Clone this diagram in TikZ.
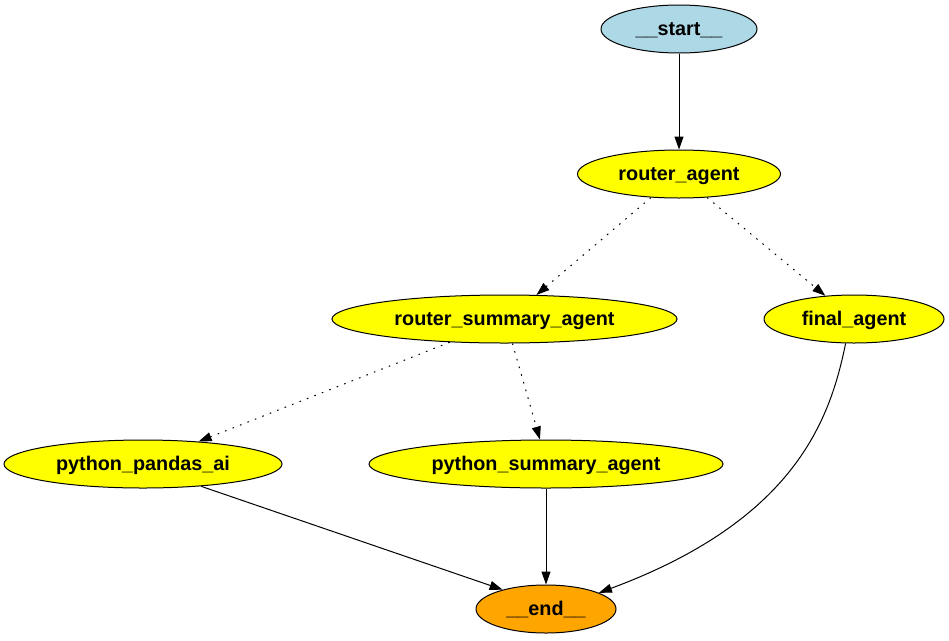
\documentclass[tikz,border=0pt]{standalone}
\usepackage{fontspec}
\setmainfont{Liberation Sans}
\usetikzlibrary{shapes.geometric,arrows.meta}
\definecolor{startblue}{RGB}{173,216,230}
\definecolor{agentyellow}{RGB}{255,255,0}
\definecolor{endorange}{RGB}{255,165,0}
\begin{document}
\begin{tikzpicture}[x=1pt,y=-1pt,
  agent/.style={ellipse,draw=black,line width=1pt,inner sep=0pt,minimum height=48pt,
    text height=14.2pt,text depth=1.2pt,
    font=\fontsize{19.8pt}{22pt}\selectfont\bfseries},
  edge/.style={line width=1pt,-{Triangle[length=13pt,width=9pt]}},
  dottededge/.style={edge,dash pattern=on 1.6pt off 6.4pt}]
\useasboundingbox (0,0) rectangle (949,640);
\fill[white] (0,0) rectangle (949,640);
\node[agent,fill=startblue,minimum width=156pt] (start) at (679,29) {\_\_start\_\_};
\node[agent,fill=agentyellow,minimum width=203pt] (router) at (679,174) {router\_agent};
\node[agent,fill=agentyellow,minimum width=345pt] (rsum) at (504.5,319) {router\_summary\_agent};
\node[agent,fill=agentyellow,minimum width=180pt] (final) at (854,319) {final\_agent};
\node[agent,fill=agentyellow,minimum width=278pt] (ppa) at (143,464) {python\_pandas\_ai};
\node[agent,fill=agentyellow,minimum width=354pt] (psa) at (546,464) {python\_summary\_agent};
\node[agent,fill=endorange,minimum width=140pt] (end) at (546,609) {\_\_end\_\_};
\draw[edge] (start) -- (router);
\draw[dottededge] (router.220.6) -- (rsum.37.7);
\draw[dottededge] (router.-40.6) -- (final.141.8);
\draw[dottededge] (rsum.203.4) -- (ppa.22.7);
\draw[dottededge] (rsum.-72.6) -- (psa.104);
\draw[edge] (ppa.-21.5) -- (end.156);
\draw[edge] (psa) -- (end);
\draw[edge] (final.251.6) .. controls (830,420) and (795,520) .. (end.17.4);
\end{tikzpicture}
\end{document}
